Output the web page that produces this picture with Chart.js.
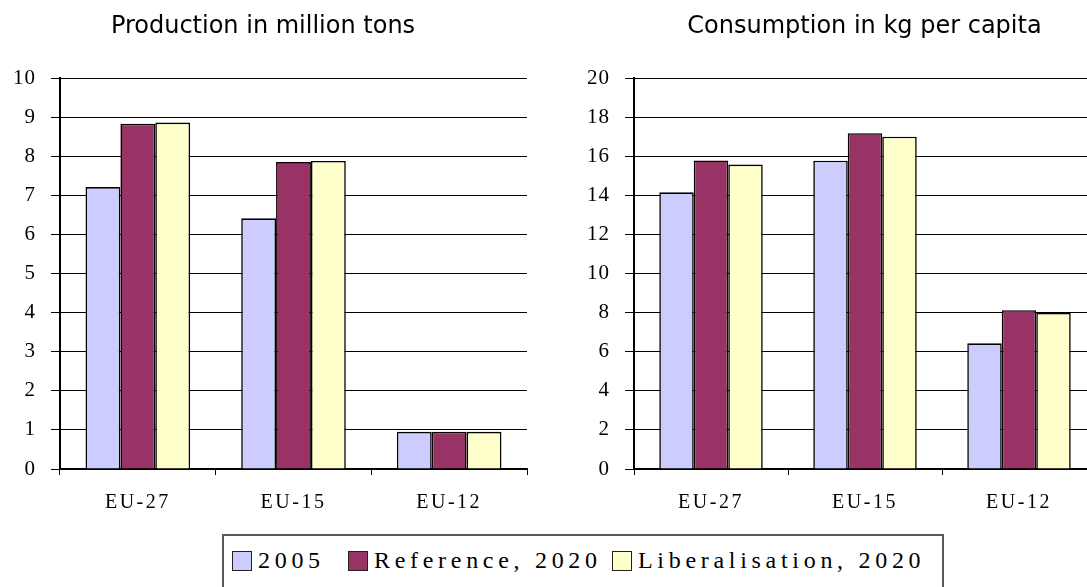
<!DOCTYPE html>
<html>
<head>
<meta charset="utf-8">
<script src="https://cdn.jsdelivr.net/npm/chart.js@4/dist/chart.umd.min.js"></script>
<style>
  html, body { margin: 0; padding: 0; background: #fff; width: 1087px; height: 587px; overflow: hidden; }
  canvas { position: absolute; top: 0; }
  #prodChart { left: 0; }
  #consChart { left: 560px; }
  #legend {
    position: absolute; left: 222px; top: 534px; width: 722px; height: 70px;
    box-sizing: border-box; border: 2px solid #5a5a5a; background: #fff;
    font-family: "Liberation Serif", serif; font-size: 24px; letter-spacing: 4.7px; color: #000;
  }
  .item { position: absolute; top: 13px; height: 23px; display: flex; align-items: center; white-space: nowrap; }
  .swatch { width: 20px; height: 20px; border: 1.5px solid #222; box-sizing: border-box; margin-right: 6px; }
</style>
</head>
<body>
<canvas id="prodChart" width="545" height="530"></canvas>
<canvas id="consChart" width="540" height="530"></canvas>
<div id="legend"></div>
<script>
// Categories and series
const categories = ['EU-27', 'EU-15', 'EU-12'];
const seriesNames = ['2005', 'Reference, 2020', 'Liberalisation, 2020'];
const seriesColors = ['#CCCCFF', '#993366', '#FFFFCC'];

// Production in million tons
const production2005 = [7.21, 6.41, 0.95];
const productionReference2020 = [8.83, 7.85, 0.95];
const productionLiberalisation2020 = [8.86, 7.88, 0.95];

// Consumption in kg per capita
const consumption2005 = [14.15, 15.77, 6.43];
const consumptionReference2020 = [15.78, 17.18, 8.12];
const consumptionLiberalisation2020 = [15.57, 17.0, 7.98];

// Axis ranges / tick steps
const productionTicks = { max: 10, step: 1 };
const consumptionTicks = { max: 20, step: 2 };

// Wider letter spacing for the axis labels
const spacedLabels = {
  id: 'spacedLabels',
  beforeDraw(chart) {
    Object.values(chart.scales).forEach(scale => {
      if (scale._spaced) return;
      const orig = scale.drawLabels.bind(scale);
      const spacing = scale.axis === 'x' ? '2.5px' : '1px';
      scale.drawLabels = function (area) {
        const ctx = this.ctx;
        const prev = ctx.letterSpacing;
        ctx.letterSpacing = spacing;
        orig(area);
        ctx.letterSpacing = prev || '0px';
      };
      scale._spaced = true;
    });
  }
};

// Panel heading drawn above the plot
const panelTitle = {
  id: 'panelTitle',
  afterDraw(chart, args, opts) {
    const ctx = chart.ctx;
    ctx.save();
    ctx.font = opts.font;
    ctx.fillStyle = '#000';
    ctx.textAlign = 'center';
    ctx.textBaseline = 'alphabetic';
    ctx.fillText(opts.text, opts.x, opts.y);
    ctx.restore();
  }
};

function makeChart(id, title, titleX, values, ticks, axisWidth, padRight) {
  const datasets = values.map((v, i) => ({
    label: seriesNames[i],
    data: v,
    backgroundColor: seriesColors[i],
    borderColor: '#000',
    borderWidth: 1.6,
    categoryPercentage: 0.672,
    barPercentage: 1.0
  }));
  return new Chart(document.getElementById(id), {
    type: 'bar',
    data: { labels: categories, datasets },
    plugins: [spacedLabels, panelTitle],
    options: {
      responsive: false,
      animation: false,
      layout: { padding: { top: 78, right: padRight, left: 0, bottom: 0 } },
      plugins: {
        legend: { display: false },
        tooltip: { enabled: false },
        title: { display: false },
        panelTitle: { text: title, x: titleX, y: 33, font: '24px "DejaVu Sans"' }
      },
      scales: {
        x: {
          afterFit: s => { s.height = 61; },
          border: { color: '#000', width: 2 },
          grid: { offset: true, drawOnChartArea: false, drawTicks: true, tickLength: 6, color: '#000', lineWidth: 1 },
          ticks: { color: '#000', padding: 16, font: { family: 'Liberation Serif', size: 20 } }
        },
        y: {
          min: 0, max: ticks.max,
          afterFit: s => { s.width = axisWidth; },
          border: { color: '#000', width: 2 },
          grid: { color: '#000', lineWidth: 1, drawTicks: true, tickLength: 9 },
          ticks: { stepSize: ticks.step, color: '#000', padding: 15, font: { family: 'Liberation Serif', size: 21 } }
        }
      }
    }
  });
}

makeChart('prodChart', 'Production in million tons', 263,
  [production2005, productionReference2020, productionLiberalisation2020],
  productionTicks, 60, 18);

makeChart('consChart', 'Consumption in kg per capita', 304.5,
  [consumption2005, consumptionReference2020, consumptionLiberalisation2020],
  consumptionTicks, 74, 4);

// Shared legend
const legendPositions = [8, 124, 388];
const legend = document.getElementById('legend');
seriesNames.forEach((name, i) => {
  const item = document.createElement('div');
  item.className = 'item';
  item.style.left = legendPositions[i] + 'px';
  const sw = document.createElement('span');
  sw.className = 'swatch';
  sw.style.background = seriesColors[i];
  const tx = document.createElement('span');
  tx.textContent = name;
  item.appendChild(sw);
  item.appendChild(tx);
  legend.appendChild(item);
});
</script>
</body>
</html>
